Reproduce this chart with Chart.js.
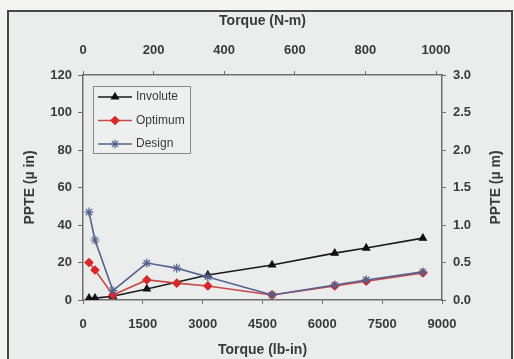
<!DOCTYPE html>
<html>
<head>
<meta charset="utf-8">
<script src="https://cdn.jsdelivr.net/npm/chart.js"></script>
<style>
  html, body { margin: 0; padding: 0; background: #f4f4f2; }
  #wrap { width: 514px; height: 359px; }
</style>
</head>
<body>
<div id="wrap"><canvas id="ppteChart" width="514" height="359"></canvas></div>
<script>
// Torque levels (lb-in) where PPTE was evaluated
const torque = [150, 300, 750, 1600, 2350, 3130, 4740, 6310, 7100, 8520];

// PPTE in micro-inch for each gear, null = not measured at that torque
const involute = [1, 1, 2, 5.9, null, 13.3, 18.7, 25, 27.7, 33];
const optimum  = [20, 16, 2.7, 10.7, 9, 7.5, 2.7, 7.5, 10, 14.4];
const design   = [46.9, 32, 5, 19.7, 17, 12.3, 2.7, 8, 10.7, 15];

// Axis tick labels
const lbInTicks = [0, 1500, 3000, 4500, 6000, 7500, 9000];
const nmTicks = [0, 200, 400, 600, 800, 1000];
const microInTicks = [0, 20, 40, 60, 80, 100, 120];
const microMTicks = [0, 0.5, 1.0, 1.5, 2.0, 2.5, 3.0];

const LB_IN_PER_NM = 8.8507;
const FONT = "'Liberation Sans', Arial, sans-serif";
const TEXT = '#3a3a3a';
const AXIS = '#6e6e6e';

Chart.defaults.font.family = FONT;
Chart.defaults.color = TEXT;

// Pair torque with a series, dropping missing points
const toPoints = (values) => torque
  .map((t, i) => ({ x: t, y: values[i] }))
  .filter(p => p.y !== null);

const series = [
  { label: 'Involute', data: involute, line: '#1a1a1a', fill: '#111', style: 'triangle', radius: 4, order: 3 },
  { label: 'Optimum', data: optimum, line: '#c94848', fill: '#d8282a', style: 'rectRot', radius: 4, order: 2 },
  { label: 'Design', data: design, line: '#56618f', fill: '#56618f', style: 'star', radius: 4.5, order: 1 }
];

// Background and outer frame of the scanned figure
const framePlugin = {
  id: 'frame',
  beforeDraw(chart) {
    const { ctx, width, height } = chart;
    ctx.save();
    ctx.fillStyle = '#f5f5f3';
    ctx.fillRect(0, 0, width, height);
    ctx.fillStyle = '#ebedec';
    ctx.fillRect(8, 11, width - 10, height);
    ctx.strokeStyle = '#474747';
    ctx.lineWidth = 2;
    ctx.strokeRect(8, 11, width - 10, height + 10);
    ctx.restore();
  }
};

// Excel style legend: short line with marker in the middle
const legendPlugin = {
  id: 'boxLegend',
  afterDatasetsDraw(chart) {
    const { ctx, chartArea } = chart;
    const x0 = chartArea.left + 10;
    const y0 = chartArea.top + 11;
    ctx.save();
    ctx.fillStyle = '#eef0ef';
    ctx.fillRect(x0, y0, 97, 67);
    ctx.strokeStyle = '#8a8a8a';
    ctx.lineWidth = 1;
    ctx.strokeRect(x0 + 0.5, y0 + 0.5, 97, 67);
    ctx.font = '12px ' + FONT;
    ctx.textBaseline = 'middle';
    series.forEach((s, i) => {
      const y = y0 + 11 + i * 23.5;
      ctx.strokeStyle = s.line;
      ctx.lineWidth = 1.5;
      ctx.beginPath();
      ctx.moveTo(x0 + 5, y);
      ctx.lineTo(x0 + 39, y);
      ctx.stroke();
      ctx.fillStyle = s.fill;
      ctx.strokeStyle = s.fill;
      ctx.lineWidth = 1.2;
      Chart.helpers.drawPoint(ctx, {
        pointStyle: s.style,
        radius: s.radius,
        borderWidth: 1.2,
        rotation: 0
      }, x0 + 22, y);
      ctx.fillStyle = TEXT;
      ctx.fillText(s.label, x0 + 43, y);
    });
    ctx.restore();
  }
};

// Right axis title reads bottom-to-top like the left one
const rightTitlePlugin = {
  id: 'rightTitle',
  afterDraw(chart) {
    const { ctx, chartArea } = chart;
    ctx.save();
    ctx.translate(496, (chartArea.top + chartArea.bottom) / 2);
    ctx.rotate(-Math.PI / 2);
    ctx.font = 'bold 14px ' + FONT;
    ctx.fillStyle = TEXT;
    ctx.textAlign = 'center';
    ctx.textBaseline = 'middle';
    ctx.fillText('PPTE (µ m)', 0, 0);
    ctx.restore();
  }
};

const fixedTicks = (values) => (scale) => {
  scale.ticks = values.map(v => ({ value: v }));
};

const tickStyle = (padding, digits) => ({
  color: TEXT,
  padding: padding,
  font: { size: 13, weight: 'bold' },
  callback: (v) => v.toFixed(digits)
});

const gridStyle = {
  display: true,
  drawOnChartArea: false,
  drawTicks: true,
  tickLength: 4,
  color: AXIS
};

const ctx = document.getElementById('ppteChart').getContext('2d');

new Chart(ctx, {
  type: 'scatter',
  data: {
    datasets: series.map(s => ({
      label: s.label,
      data: toPoints(s.data),
      showLine: true,
      borderColor: s.line,
      borderWidth: 1.6,
      pointStyle: s.style,
      pointRadius: s.radius,
      pointBorderWidth: 1.2,
      pointBorderColor: s.fill,
      pointBackgroundColor: s.fill,
      order: s.order,
      xAxisID: 'x',
      yAxisID: 'y'
    }))
  },
  options: {
    responsive: false,
    animation: false,
    layout: { padding: 0 },
    plugins: {
      legend: { display: false },
      tooltip: { enabled: false }
    },
    scales: {
      x: {
        type: 'linear',
        position: 'bottom',
        min: 0,
        max: 9000,
        afterBuildTicks: fixedTicks(lbInTicks),
        afterFit: (scale) => { scale.height = 59; },
        ticks: tickStyle(13, 0),
        grid: gridStyle,
        border: { display: true, color: AXIS, width: 1.5 },
        title: {
          display: true,
          text: 'Torque (lb-in)',
          color: TEXT,
          font: { size: 14, weight: 'bold' },
          padding: { top: 0, bottom: 0 }
        }
      },
      x2: {
        type: 'linear',
        position: 'top',
        min: 0,
        max: 9000 / LB_IN_PER_NM,
        afterBuildTicks: fixedTicks(nmTicks),
        afterFit: (scale) => { scale.height = 75; },
        ticks: tickStyle(13, 0),
        grid: gridStyle,
        border: { display: true, color: AXIS, width: 1.5 },
        title: {
          display: true,
          text: 'Torque (N-m)',
          color: TEXT,
          font: { size: 14, weight: 'bold' },
          padding: { top: 13, bottom: 0 }
        }
      },
      y: {
        type: 'linear',
        position: 'left',
        min: 0,
        max: 120,
        afterBuildTicks: fixedTicks(microInTicks),
        afterFit: (scale) => { scale.width = 83; },
        ticks: tickStyle(6, 0),
        grid: Object.assign({}, gridStyle, { tickLength: 5 }),
        border: { display: true, color: AXIS, width: 1.5 },
        title: {
          display: true,
          text: 'PPTE (µ in)',
          color: TEXT,
          font: { size: 14, weight: 'bold' },
          padding: { top: 22, bottom: 0 }
        }
      },
      y2: {
        type: 'linear',
        position: 'right',
        min: 0,
        max: 3.0,
        afterBuildTicks: fixedTicks(microMTicks),
        afterFit: (scale) => { scale.width = 72; },
        ticks: tickStyle(7, 1),
        grid: gridStyle,
        border: { display: true, color: AXIS, width: 1.5 }
      }
    }
  },
  plugins: [framePlugin, legendPlugin, rightTitlePlugin]
});
</script>
</body>
</html>
